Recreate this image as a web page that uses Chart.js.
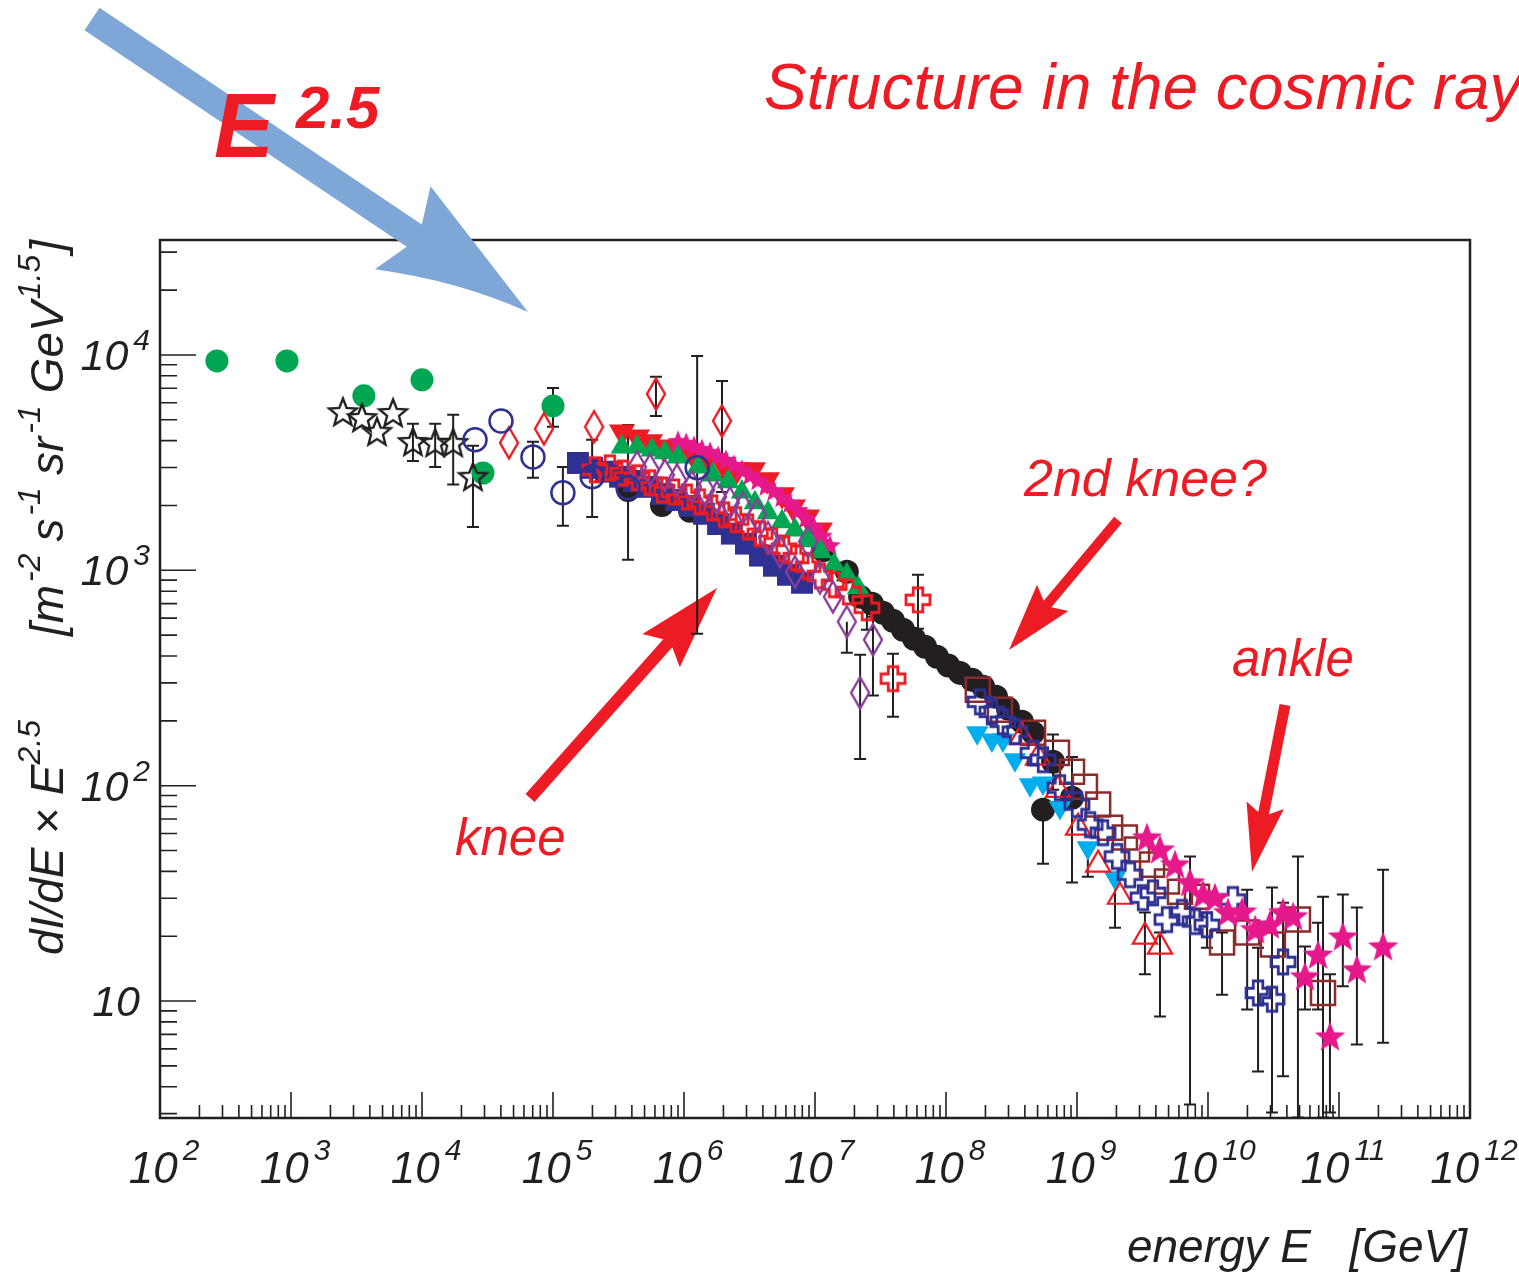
<!DOCTYPE html>
<html>
<head>
<meta charset="utf-8">
<title>Structure in the cosmic ray spectrum</title>
<script src="https://cdn.jsdelivr.net/npm/chart.js@4.4.1/dist/chart.umd.min.js"></script>
<style>
  html, body { margin: 0; padding: 0; background: #fff; }
  #wrap { position: relative; width: 1519px; height: 1277px; }
</style>
</head>
<body>
<div id="wrap"><canvas id="spectrumChart"></canvas></div>
<script>
// energy in GeV, flux as dI/dE x E^2.5 in m^-2 s^-1 sr^-1 GeV^1.5

// green filled circles
const greenCircE = [272, 931, 3600, 1.0e4, 2.92e4, 1.0e5];
const greenCircI = [9380, 9380, 6460, 7660, 2830, 5800];
const greenCircLo = [null, null, null, null, null, 4640];
const greenCircHi = [null, null, null, null, null, 7030];

// black open stars
const openStarE = [2490, 3480, 4530, 6010, 8530, 1.26e4, 1.73e4, 2.45e4];
const openStarI = [5430, 5100, 4400, 5380, 3950, 3910, 3910, 2720];
const openStarLo = [null, null, null, null, 3220, 3020, 2500, 1590];
const openStarHi = [null, null, null, null, 4790, 4790, 5270, 3790];

// blue open circles
const blueCircE = [2.54e4, 4.01e4, 7.03e4, 1.19e5, 1.99e5, 3.74e5, 1.26e6];
const blueCircI = [4040, 4940, 3360, 2290, 2720, 2420, 2990];
const blueCircLo = [null, null, 2690, 1610, 1770, 1120, 507];
const blueCircHi = [null, null, 3950, 3020, 4040, 4730, 9890];

// red open diamonds
const redDiaE = [4.61e4, 8.53e4, 2.06e5, 6.11e5, 1.95e6];
const redDiaI = [3910, 4540, 4640, 6590, 4940];
const redDiaLo = [null, null, null, 5210, 2310];
const redDiaHi = [null, null, null, 7910, 7570];

// navy filled squares
const navySqE = [1.55e5, 1.99e5, 2.54e5, 3.25e5, 4.15e5, 5.31e5, 6.79e5, 8.69e5, 1.11e6, 1.42e6,
                 1.82e6, 2.32e6, 2.97e6, 3.80e6, 4.86e6, 6.22e6, 7.96e6];
const navySqI = [3150, 2990, 2870, 2720, 2600, 2440, 2260, 2120, 1990, 1830,
                 1640, 1480, 1330, 1170, 1050, 953, 875];

// red open crosses
const redCrossE = [2.09e5, 2.72e5, 3.42e5, 4.38e5, 5.50e5, 6.79e5, 8.39e5, 1.05e6, 1.32e6, 1.64e6,
                   2.02e6, 2.49e6, 3.08e6, 3.80e6, 4.70e6, 5.80e6, 7.16e6, 8.85e6, 1.09e7, 1.40e7,
                   1.79e7, 2.49e7, 3.94e7, 6.11e7];
const redCrossI = [2930, 2990, 2830, 2690, 2550, 2360, 2310, 2190, 2080, 1950,
                   1810, 1720, 1590, 1480, 1370, 1260, 1140, 1040, 942, 857,
                   794, 670, 314, 729];
const redCrossLo = [null, null, null, null, null, null, null, null, null, null,
                    null, null, null, null, null, null, null, null, null, null,
                    null, 530, 209, 535];
const redCrossHi = [null, null, null, null, null, null, null, null, null, null,
                    null, null, null, null, null, null, null, null, null, null,
                    null, null, 410, 953];

// purple open diamonds
const purpleDiaE = [4.38e5, 5.50e5, 7.16e5, 8.85e5, 1.15e6, 1.45e6, 1.79e6, 2.24e6, 2.82e6, 3.61e6,
                    4.38e6, 5.41e6, 7.03e6, 8.85e6, 1.09e7, 1.37e7, 1.75e7, 2.21e7, 2.77e7];
const purpleDiaI = [3020, 2930, 2770, 2630, 2440, 2360, 2190, 2060, 1950, 1810,
                    1420, 1220, 984, 1360, 923, 753, 577, 270, 476];
const purpleDiaLo = [null, null, null, null, null, null, null, null, null, null,
                     null, null, null, null, null, null, 414, 133, 262];
const purpleDiaHi = [null, null, null, null, null, null, null, null, null, null,
                     null, null, null, null, null, null, null, 405, 608];

// red filled down-triangles
const redDownE = [3.36e5, 4.38e5, 5.50e5, 6.92e5, 8.85e5, 1.17e6, 1.50e6, 1.99e6, 2.54e6, 3.36e6,
                  4.30e6, 5.60e6, 6.79e6, 8.69e6, 1.09e7];
const redDownI = [4390, 4160, 3950, 3740, 3550, 3430, 3260, 3090, 2930, 2930,
                  2630, 2240, 1970, 1770, 1540];

// magenta small stars, knee region
const pinkBandE = [9.0e5, 1.04e6, 1.19e6, 1.37e6, 1.58e6, 1.82e6, 2.09e6, 2.41e6, 2.77e6, 3.19e6,
                   3.67e6, 4.23e6, 4.86e6, 5.60e6, 6.44e6, 7.41e6, 8.53e6, 9.82e6, 1.13e7, 1.30e7];
const pinkBandI = [3990, 3910, 3780, 3660, 3550, 3400, 3260, 3090, 2930, 2770,
                   2630, 2470, 2340, 2190, 2060, 1910, 1750, 1590, 1450, 1310];

// green filled triangles
const greenTriE = [3.36e5, 4.38e5, 5.70e5, 7.16e5, 9.0e5, 1.28e6, 1.66e6, 2.17e6, 2.77e6, 3.48e6,
                   4.38e6, 5.60e6, 7.03e6, 8.85e6, 1.11e7, 1.40e7, 1.75e7, 2.13e7];
const greenTriI = [3740, 3740, 3620, 3510, 3360, 3020, 2770, 2580, 2310, 2060,
                   1850, 1680, 1540, 1370, 1220, 1060, 953, 830];

// black filled circles
const blackCircE = [3.74e5, 6.79e5, 1.11e6, 1.15e7, 1.75e7, 2.21e7, 2.72e7, 3.30e7, 3.94e7, 4.70e7,
                    5.70e7, 6.92e7, 8.53e7, 1.04e8, 1.28e8, 1.58e8, 1.92e8, 2.41e8, 2.97e8, 3.80e8,
                    4.62e8, 5.50e8, 6.56e8, 9.16e8];
const blackCircI = [2360, 2010, 1890, 1240, 984, 753, 700, 635, 583, 530,
                    481, 442, 397, 361, 334, 310, 288, 259, 228, 198,
                    176, 77.4, 129, 87.9];
const blackCircLo = [null, null, null, null, null, null, null, null, null, null,
                     null, null, null, null, null, null, null, null, null, null,
                     null, 43.4, 95.7, 35.5];
const blackCircHi = [null, null, null, null, null, null, null, null, null, null,
                     null, null, null, null, null, null, null, null, null, null,
                     null, null, 173, 136];

// cyan filled down-triangles
const cyanDownE = [1.73e8, 2.24e8, 2.72e8, 3.36e8, 4.38e8, 5.50e8, 7.41e8, 1.21e9, 1.95e9];
const cyanDownI = [176, 163, 163, 132, 101, 103, 79.1, 51.5, 37.4];
const cyanDownLo = [null, null, null, null, null, null, null, 37.8, 21.9];
const cyanDownHi = [null, null, null, null, null, null, null, null, null];

// red open up-triangles
const redUpE = [3.80e8, 5.04e8, 7.16e8, 1.02e9, 1.45e9, 2.13e9, 3.30e9, 4.30e9];
const redUpI = [169, 135, 95.7, 63.8, 43.0, 30.5, 19.9, 17.9];
const redUpLo = [null, null, null, null, null, null, 13.3, 8.47];
const redUpHi = [null, null, null, null, null, null, 25.8, 20.8];

// navy open crosses
const navyCrossE = [1.82e8, 2.24e8, 2.72e8, 3.36e8, 4.62e8, 5.50e8, 7.41e8, 1.00e9, 1.26e9, 1.58e9,
                    2.02e9, 2.54e9, 3.19e9, 3.80e9, 4.86e9, 6.34e9, 7.96e9, 9.82e9, 1.55e10, 2.41e10,
                    3.08e10, 3.74e10];
const navyCrossI = [245, 220, 198, 178, 142, 132, 97.9, 81.7, 65.9, 60.5,
                    46.9, 38.6, 30.2, 31.8, 23.9, 25.8, 23.4, 22.6, 29.6, 10.9,
                    10.2, 15.2];
const navyCrossLo = [null, null, null, null, null, null, null, null, null, null,
                     null, null, null, null, null, null, null, 17.7, null, 4.71,
                     3.04, 4.47];
const navyCrossHi = [null, null, null, null, null, null, null, null, null, null,
                     null, null, null, null, null, null, null, 25.8, null, 17.7,
                     33.7, 28.6];

// brown open squares
const brownSqE = [1.75e8, 2.58e8, 4.62e8, 7.03e8, 9.16e8, 1.15e9, 1.45e9, 1.79e9, 2.32e9, 2.87e9,
                  3.74e9, 4.86e9, 6.11e9, 8.24e9, 1.28e10, 1.99e10, 3.13e10, 4.86e10, 7.55e10];
const brownSqI = [279, 225, 176, 142, 116, 98.9, 81.7, 63.8, 57.4, 50.5,
                  43.0, 35.9, 32.2, 30.5, 18.7, 20.8, 18.3, 23.9, 10.9];
const brownSqLo = [null, null, null, null, null, null, null, null, null, null,
                   null, null, null, null, 10.7, 9.14, null, 2.88, 2.88];
const brownSqHi = [null, null, null, null, null, null, null, null, null, null,
                   null, null, null, null, 20.8, 32.9, null, 46.9, 30.5];

// magenta filled stars, ankle region
const pinkStarE = [3.42e9, 4.30e9, 5.60e9, 7.29e9, 9.16e9, 1.13e10, 1.42e10, 1.82e10, 2.29e10, 2.97e10,
                   3.74e10, 4.46e10, 5.50e10, 6.92e10, 8.53e10, 1.07e11, 1.37e11, 2.17e11];
const pinkStarI = [57.4, 50.5, 43.0, 35.5, 31.2, 30.2, 25.8, 26.0, 21.5, 22.6,
                   25.8, 24.7, 13.0, 16.4, 6.84, 19.9, 14.0, 17.9];
const pinkStarLo = [null, null, null, 3.31, null, null, null, null, null, null,
                    null, null, 9.14, 9.14, 3.04, 11.7, 6.28, 6.41];
const pinkStarHi = [null, null, null, 46.9, null, null, null, null, null, null,
                    null, null, 17.9, 23.1, 13.3, 31.2, 27.2, 40.7];

const xTickExp = [2, 3, 4, 5, 6, 7, 8, 9, 10, 11, 12];
const yTickExp = [1, 2, 3, 4];

const FONT = '"Liberation Sans", Arial, Helvetica, sans-serif';
const INK = '#231f20';
const RED = '#ed1c24';

// ---- marker shapes that Chart.js has no built-in style for ----
function makeMarker(w, h, paint) {
    const c = document.createElement('canvas');
    c.width = w;
    c.height = h;
    paint(c.getContext('2d'), w / 2, h / 2);
    return c;
}

function starPath(g, cx, cy, R, r) {
    g.beginPath();
    for (let i = 0; i < 10; i++) {
        const a = -Math.PI / 2 + i * Math.PI / 5;
        const rad = i % 2 ? r : R;
        g.lineTo(cx + rad * Math.cos(a), cy + rad * Math.sin(a));
    }
    g.closePath();
}

function plusPath(g, cx, cy, s, t) {
    const h = s / 2, a = t / 2;
    const pts = [[-a, -h], [a, -h], [a, -a], [h, -a], [h, a], [a, a],
                 [a, h], [-a, h], [-a, a], [-h, a], [-h, -a], [-a, -a]];
    g.beginPath();
    pts.forEach(p => g.lineTo(cx + p[0], cy + p[1]));
    g.closePath();
}

const openStar = makeMarker(34, 34, (g, cx, cy) => {
    starPath(g, cx, cy + 1, 14.5, 6.3);
    g.lineWidth = 2.4;
    g.strokeStyle = INK;
    g.stroke();
});
const bigPinkStar = makeMarker(36, 36, (g, cx, cy) => {
    starPath(g, cx, cy + 1, 16, 6.8);
    g.fillStyle = '#e6198c';
    g.fill();
});
const smallPinkStar = makeMarker(28, 28, (g, cx, cy) => {
    starPath(g, cx, cy + 1, 11.5, 5);
    g.fillStyle = '#e6198c';
    g.fill();
});
const redPlus = makeMarker(30, 30, (g, cx, cy) => {
    plusPath(g, cx, cy, 24, 9.5);
    g.lineWidth = 2.8;
    g.strokeStyle = RED;
    g.stroke();
});
const navyPlus = makeMarker(30, 30, (g, cx, cy) => {
    plusPath(g, cx, cy, 24, 9.5);
    g.lineWidth = 2.8;
    g.strokeStyle = '#2e3192';
    g.stroke();
});
function tallDiamond(color) {
    return makeMarker(24, 36, (g, cx, cy) => {
        g.beginPath();
        g.moveTo(cx, cy - 15.5);
        g.lineTo(cx + 9, cy);
        g.lineTo(cx, cy + 15.5);
        g.lineTo(cx - 9, cy);
        g.closePath();
        g.lineWidth = 2.4;
        g.strokeStyle = color;
        g.stroke();
    });
}
const redDiamond = tallDiamond(RED);
const purpleDiamond = tallDiamond('#8b3d9a');

function series(label, E, I, style, lo, hi) {
    return Object.assign({
        label: label,
        data: E.map((e, i) => ({ x: e, y: I[i] })),
        showLine: false,
        pointRadius: 10,
        pointBorderWidth: 0,
        pointBackgroundColor: 'transparent',
        pointBorderColor: 'transparent',
        errLo: lo || null,
        errHi: hi || null
    }, style);
}

// first dataset is painted last, i.e. on top
const datasets = [
    series('blue circles', blueCircE, blueCircI,
        { pointStyle: 'circle', pointRadius: 11.5, pointBorderWidth: 2.5, pointBorderColor: '#2e3192' },
        blueCircLo, blueCircHi),
    series('red diamonds', redDiaE, redDiaI, { pointStyle: redDiamond }, redDiaLo, redDiaHi),
    series('open stars', openStarE, openStarI, { pointStyle: openStar }, openStarLo, openStarHi),
    series('green circles', greenCircE, greenCircI,
        { pointStyle: 'circle', pointRadius: 11.5, pointBackgroundColor: '#00a651' },
        greenCircLo, greenCircHi),
    series('purple diamonds', purpleDiaE, purpleDiaI, { pointStyle: purpleDiamond }, purpleDiaLo, purpleDiaHi),
    series('red crosses', redCrossE, redCrossI, { pointStyle: redPlus }, redCrossLo, redCrossHi),
    series('navy squares', navySqE, navySqI,
        { pointStyle: 'rect', pointRadius: 15.5, pointBackgroundColor: '#2e3192' }),
    series('green triangles', greenTriE, greenTriI,
        { pointStyle: 'triangle', pointRadius: 13, pointBackgroundColor: '#00a651' }),
    series('pink band', pinkBandE, pinkBandI, { pointStyle: smallPinkStar }),
    series('red down triangles', redDownE, redDownI,
        { pointStyle: 'triangle', pointRotation: 180, pointRadius: 15, pointBackgroundColor: RED }),
    series('pink stars', pinkStarE, pinkStarI, { pointStyle: bigPinkStar }, pinkStarLo, pinkStarHi),
    series('navy crosses', navyCrossE, navyCrossI, { pointStyle: navyPlus }, navyCrossLo, navyCrossHi),
    series('red up triangles', redUpE, redUpI,
        { pointStyle: 'triangle', pointRadius: 14, pointBorderWidth: 2.2, pointBorderColor: RED },
        redUpLo, redUpHi),
    series('brown squares', brownSqE, brownSqI,
        { pointStyle: 'rect', pointRadius: 17, pointBorderWidth: 2.5, pointBorderColor: '#8b2b2b' },
        brownSqLo, brownSqHi),
    series('cyan triangles', cyanDownE, cyanDownI,
        { pointStyle: 'triangle', pointRotation: 180, pointRadius: 13, pointBackgroundColor: '#00aeef' },
        cyanDownLo, cyanDownHi),
    series('black circles', blackCircE, blackCircI,
        { pointStyle: 'circle', pointRadius: 12, pointBackgroundColor: INK },
        blackCircLo, blackCircHi)
];

// ---- text helpers: italic runs with raised superscripts ----
function runFont(r) {
    return 'italic ' + (r.bold ? 'bold ' : '') + r.size + 'px ' + FONT;
}
function runsWidth(ctx, runs) {
    let w = 0;
    runs.forEach(r => {
        ctx.font = runFont(r);
        w += ctx.measureText(r.t).width + (r.gap || 0);
    });
    return w;
}
function drawRuns(ctx, runs, x, y, align) {
    const w = runsWidth(ctx, runs);
    let cx = align === 'right' ? x - w : (align === 'center' ? x - w / 2 : x);
    runs.forEach(r => {
        ctx.font = runFont(r);
        ctx.fillText(r.t, cx, y - (r.rise || 0));
        cx += ctx.measureText(r.t).width + (r.gap || 0);
    });
}

// ---- arrows ----
function drawArrow(ctx, sx, sy, tx, ty, shaftW, headLen, headW, notch, color, bend) {
    const len = Math.hypot(tx - sx, ty - sy);
    const ux = (tx - sx) / len, uy = (ty - sy) / len;
    const nx = -uy, ny = ux;
    const bx = tx - ux * headLen, by = ty - uy * headLen;
    const jx = bx + ux * notch, jy = by + uy * notch;
    const hs = shaftW / 2, hw = headW / 2;
    ctx.beginPath();
    ctx.moveTo(sx + nx * hs, sy + ny * hs);
    ctx.lineTo(jx + nx * hs, jy + ny * hs);
    ctx.lineTo(bx + nx * hw, by + ny * hw);
    if (bend) {
        const mx = (bx + nx * hw + tx) / 2 - nx * bend, my = (by + ny * hw + ty) / 2 - ny * bend;
        ctx.quadraticCurveTo(mx, my, tx, ty);
    } else {
        ctx.lineTo(tx, ty);
    }
    ctx.lineTo(bx - nx * hw, by - ny * hw);
    ctx.lineTo(jx - nx * hs, jy - ny * hs);
    ctx.lineTo(sx - nx * hs, sy - ny * hs);
    ctx.closePath();
    ctx.fillStyle = color;
    ctx.fill();
}

const decor = {
    id: 'decor',
    beforeDatasetsDraw(chart) {
        const { ctx, chartArea: a, scales: { x, y } } = chart;
        ctx.save();

        // red pointers (knee, 2nd knee, ankle)
        drawArrow(ctx, 530, 798, 717, 588, 12, 84, 50, 10, RED, 0);
        drawArrow(ctx, 1118, 520, 1009, 650, 10, 68, 41, 8, RED, 0);
        drawArrow(ctx, 1285, 705, 1252, 872, 11, 68, 38, 8, RED, 0);

        // frame
        ctx.strokeStyle = INK;
        ctx.lineWidth = 2.5;
        ctx.strokeRect(a.left, a.top, a.right - a.left, a.bottom - a.top);

        // ticks on the inside of the bottom and left axes
        ctx.lineWidth = 1.6;
        ctx.beginPath();
        for (let d = 2; d <= 12; d++) {
            const px = x.getPixelForValue(Math.pow(10, d));
            ctx.moveTo(px, a.bottom);
            ctx.lineTo(px, a.bottom - 26);
            if (d === 12) break;
            for (let m = 2; m <= 9; m++) {
                const mx = x.getPixelForValue(m * Math.pow(10, d));
                ctx.moveTo(mx, a.bottom);
                ctx.lineTo(mx, a.bottom - 13);
            }
        }
        for (let d = 0; d <= 4; d++) {
            for (let m = 1; m <= 9; m++) {
                const v = m * Math.pow(10, d);
                if (v < y.min || v > y.max) continue;
                const py = y.getPixelForValue(v);
                ctx.moveTo(a.left, py);
                ctx.lineTo(a.left + (m === 1 ? 36 : 17), py);
            }
        }
        ctx.stroke();

        // tick labels
        ctx.fillStyle = INK;
        ctx.textBaseline = 'alphabetic';
        xTickExp.forEach(e => {
            const px = x.getPixelForValue(Math.pow(10, e));
            drawRuns(ctx, [{ t: '10', size: 44, gap: 5 }, { t: String(e), size: 30, rise: 23 }],
                px + 4, a.bottom + 65, 'center');
        });
        yTickExp.forEach(e => {
            const py = y.getPixelForValue(Math.pow(10, e));
            if (e === 1) {
                drawRuns(ctx, [{ t: '10', size: 43 }], 140, py + 15, 'right');
            } else {
                drawRuns(ctx, [{ t: '10', size: 43, gap: 5 }, { t: String(e), size: 30, rise: 20 }],
                    150, py + 15, 'right');
            }
        });

        // axis titles
        drawRuns(ctx, [{ t: 'energy E   [GeV]', size: 46 }], 1467, 1262, 'right');
        ctx.save();
        ctx.translate(63, 955);
        ctx.rotate(-Math.PI / 2);
        drawRuns(ctx, [
            { t: 'dI/dE \u00d7 E', size: 46 },
            { t: '2.5', size: 32, rise: 23 }
        ], 0, 0, 'left');
        drawRuns(ctx, [
            { t: '[m', size: 46, gap: 3 }, { t: '-2', size: 32, rise: 23, gap: 12 },
            { t: 's', size: 46, gap: 3 }, { t: '-1', size: 32, rise: 23, gap: 12 },
            { t: 'sr', size: 46, gap: 3 }, { t: '-1', size: 32, rise: 23, gap: 12 },
            { t: 'GeV', size: 46, gap: 2 }, { t: '1.5', size: 32, rise: 23, gap: 2 },
            { t: ']', size: 46 }
        ], 955 - 240, 0, 'right');
        ctx.restore();

        // error bars
        ctx.strokeStyle = INK;
        ctx.lineWidth = 2;
        chart.data.datasets.forEach((ds, i) => {
            if (!ds.errLo) return;
            const pts = chart.getDatasetMeta(i).data;
            pts.forEach((p, j) => {
                const lo = ds.errLo[j], hi = ds.errHi[j];
                if (lo == null && hi == null) return;
                const yl = lo == null ? p.y : Math.min(y.getPixelForValue(lo), a.bottom);
                const yh = hi == null ? p.y : y.getPixelForValue(hi);
                ctx.beginPath();
                ctx.moveTo(p.x, yl);
                ctx.lineTo(p.x, yh);
                if (lo != null) { ctx.moveTo(p.x - 6, yl); ctx.lineTo(p.x + 6, yl); }
                if (hi != null) { ctx.moveTo(p.x - 6, yh); ctx.lineTo(p.x + 6, yh); }
                ctx.stroke();
            });
        });
        ctx.restore();
    },
    afterDraw(chart) {
        const ctx = chart.ctx;
        ctx.save();

        // big blue arrow crossing the frame
        drawArrow(ctx, 92, 19, 528, 312, 27, 151, 100, 14, '#7ea7d8', 12);

        ctx.fillStyle = RED;
        ctx.textBaseline = 'alphabetic';
        drawRuns(ctx, [{ t: 'E', size: 90, bold: true }], 214, 157, 'left');
        drawRuns(ctx, [{ t: '2.5', size: 60, bold: true }], 296, 128, 'left');

        drawRuns(ctx, [{ t: 'Structure in the cosmic ray', size: 64 }], 764, 109, 'left');
        drawRuns(ctx, [{ t: '2nd knee?', size: 52 }], 1024, 496, 'left');
        drawRuns(ctx, [{ t: 'knee', size: 51 }], 455, 855, 'left');
        drawRuns(ctx, [{ t: 'ankle', size: 51 }], 1232, 676, 'left');
        ctx.restore();
    }
};

new Chart(document.getElementById('spectrumChart'), {
    type: 'scatter',
    data: { datasets: datasets },
    options: {
        responsive: true,
        maintainAspectRatio: false,
        animation: false,
        layout: { padding: { left: 160, right: 49, top: 240, bottom: 159 } },
        plugins: {
            legend: { display: false },
            tooltip: { enabled: false }
        },
        scales: {
            x: { type: 'logarithmic', min: 1e2, max: 1e12, display: false },
            y: { type: 'logarithmic', min: 2.864, max: 34170, display: false }
        }
    },
    plugins: [decor]
});
</script>
</body>
</html>
